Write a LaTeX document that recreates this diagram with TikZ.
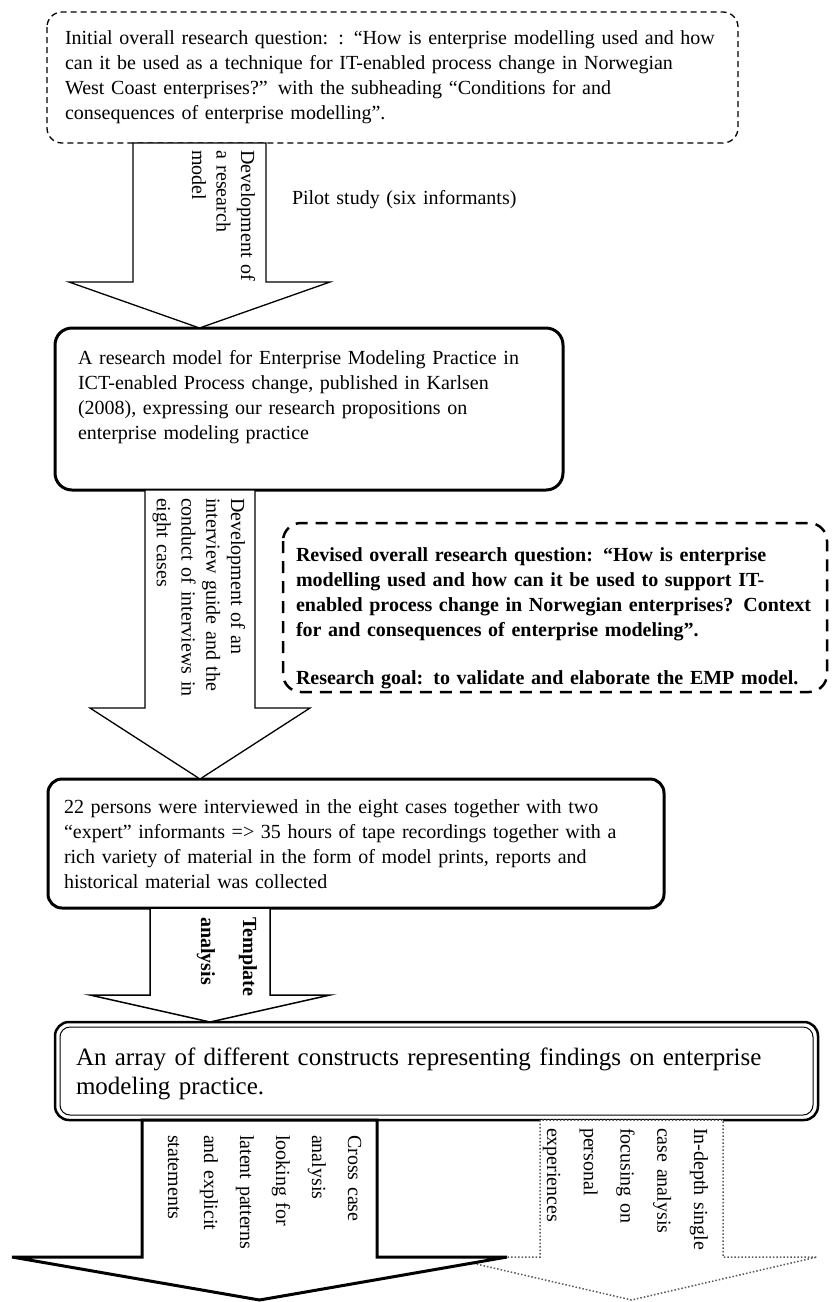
\documentclass[tikz,border=0pt]{standalone}
\usepackage{fontspec}
\setmainfont{Liberation Serif}
\newcommand{\blockarr}[7][]{%
  % [style]{shaft left}{shaft right}{top}{wing line}{wing overhang}{tip}
  \draw[#1] (#2,#4) -- (#2,#5) -- ({#2-#6},#5) -- ({(#2+#3)/2},#7)
    -- ({#3+#6},#5) -- (#3,#5) -- (#3,#4) -- cycle;}
\begin{document}
\begin{tikzpicture}[x=1pt,y=-1pt,
  every node/.style={inner sep=0pt,outer sep=0pt},
  txt/.style={font=\fontsize{20}{25}\selectfont,anchor=base west,align=left,text width=#1},
  txt/.default=720pt,
  vtxt/.style={font=\fontsize{20}{#1}\selectfont,anchor=base west,align=left,text width=200pt,rotate=-90},
  vtxt/.default=24.5,
  qbox/.style={draw,line width=1.3pt,dash pattern=on 6pt off 4pt,rounded corners=15pt},
  solidbox/.style={draw,line width=3pt,rounded corners=17pt},
  goalbox/.style={draw,line width=2.5pt,dash pattern=on 12pt off 8pt,rounded corners=18pt},
  blk/.style={draw,fill=white,line width=1.3pt,line join=miter},
  blkthick/.style={draw,fill=white,line width=3pt,line join=miter},
  blkdot/.style={draw=black!65,fill=white,line width=1.5pt,dotted},
]
\fill[white] (0,0) rectangle (839,1302);
\useasboundingbox (0,0) rectangle (839,1302);

% boxes
\draw[qbox] (47,12) rectangle (738,143);
\draw[solidbox] (55,328) rectangle (563,490);
\draw[goalbox] (283,523) rectangle (827,692);
\draw[solidbox,rounded corners=14pt] (48,779) rectangle (664,908);
\draw[line width=2.5pt,rounded corners=14pt] (55,1022) rectangle (818,1120);
\draw[line width=1pt,rounded corners=10pt] (60,1027) rectangle (813,1115);

% block arrows
\blockarr[blk]{133}{266}{143}{282}{64}{328}
\blockarr[blk]{145}{255}{490}{708}{55}{779}
\blockarr[blk,line width=1.5pt]{150}{270}{908}{995}{60}{1022}
\blockarr[blkdot]{540}{723}{1120}{1257}{94}{1300}
\blockarr[blkthick]{142}{377}{1120}{1257}{130}{1300}

% box texts
\node[txt] (q1) at (65,44) {Initial overall research question: : “How is enterprise modelling used and how\\
can it be used as a technique for IT-enabled process change in Norwegian\\
West Coast enterprises?” with the subheading “Conditions for and\\
consequences of enterprise modelling”.};

\node[txt] (pilot) at (292,204) {Pilot study (six informants)};

\node[txt] (emp) at (78,364) {A research model for Enterprise Modeling Practice in\\
ICT-enabled Process change, published in Karlsen\\
(2008), expressing our research propositions on\\
enterprise modeling practice};

\node[txt,font=\bfseries\fontsize{20}{25}\selectfont] (q2) at (296,561) {Revised overall research question: “How is enterprise\\
modelling used and how can it be used to support IT-\\
enabled process change in Norwegian enterprises? Context\\
for and consequences of enterprise modeling”.\\[23pt]
Research goal: to validate and elaborate the EMP model.};

\node[txt] (data) at (64,813) {22 persons were interviewed in the eight cases together with two\\
“expert” informants => 35 hours of tape recordings together with a\\
rich variety of material in the form of model prints, reports and\\
historical material was collected};

\node[txt,font=\fontsize{25}{29}\selectfont,text width=760pt] (constructs) at (76,1065) {An array of different constructs representing findings on enterprise\\
modeling practice.};

% arrow labels
\node[vtxt] (dev1) at (241,150) {Development of\\ a research\\ model};
\node[vtxt=24.7] (dev2) at (231,498) {Development of an\\ interview guide and the\\ conduct of interviews in\\ eight cases};
\node[vtxt=42,font=\bfseries\fontsize{20}{42}\selectfont] (tmpl) at (243,917) {Template\\ analysis};
\node[vtxt=36] (cross) at (348,1135) {Cross case\\ analysis\\ looking for\\ latent patterns\\ and explicit\\ statements};
\node[vtxt=36.7] (single) at (694,1128) {In-depth single\\ case analysis\\ focusing on\\ personal\\ experiences};
\end{tikzpicture}
\end{document}
